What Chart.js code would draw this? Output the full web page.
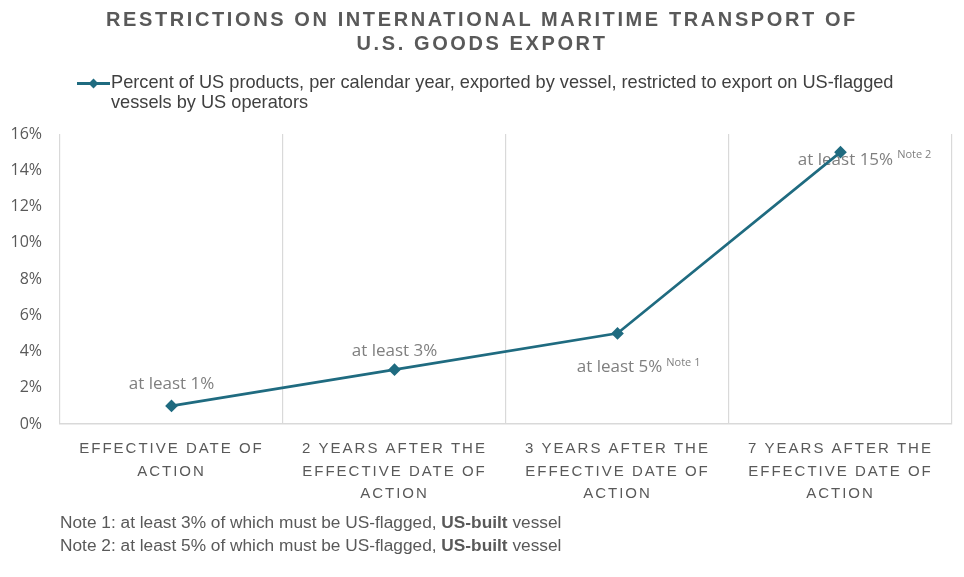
<!DOCTYPE html>
<html><head><meta charset="utf-8">
<script src="https://cdn.jsdelivr.net/npm/chart.js@4.4.1/dist/chart.umd.min.js"></script>
<style>
html,body{margin:0;padding:0;background:#fff;width:964px;height:577px;overflow:hidden;position:relative}
canvas{position:absolute;left:0;top:0}
#title{position:absolute;left:0;top:7px;width:964px;text-align:center;font-family:"Liberation Sans",Arial,sans-serif;font-weight:bold;font-size:20px;line-height:24px;letter-spacing:2.6px;color:#595959}
#legend{position:absolute;left:77px;top:72px;width:880px;font-family:"Liberation Sans",Arial,sans-serif;font-size:18.2px;line-height:20px;color:#404040}
#legend .mk{position:absolute;left:0;top:10px;width:33px;height:2.5px;background:#1F6B80}
#legend .mk:after{content:"";position:absolute;left:13px;top:-2.5px;width:7px;height:7px;background:#1F6B80;transform:rotate(45deg)}
#legend .tx{position:absolute;left:34px;top:0;white-space:nowrap}
#notes{position:absolute;left:60px;top:511px;font-family:"Liberation Sans",Arial,sans-serif;font-size:17.3px;line-height:23px;color:#595959}
</style></head>
<body>
<canvas id="c" width="964" height="577"></canvas>
<div id="title">RESTRICTIONS ON INTERNATIONAL MARITIME TRANSPORT OF<br>U.S. GOODS EXPORT</div>
<div id="legend"><span class="mk"></span><span class="tx" id="legendText"></span></div>
<div id="notes">Note 1: at least 3% of which must be US-flagged, <b>US-built</b> vessel<br>Note 2: at least 5% of which must be US-flagged, <b>US-built</b> vessel</div>
<script>
const categories = [
  ["EFFECTIVE DATE OF", "ACTION"],
  ["2 YEARS AFTER THE", "EFFECTIVE DATE OF", "ACTION"],
  ["3 YEARS AFTER THE", "EFFECTIVE DATE OF", "ACTION"],
  ["7 YEARS AFTER THE", "EFFECTIVE DATE OF", "ACTION"]
];
const seriesName = "Percent of US products, per calendar year, exported by vessel, restricted to export on US-flagged vessels by US operators";
const restrictedPct = [1, 3, 5, 15];
const labelNotes = ["", "", "Note 1", "Note 2"];
const yMax = 16;
const yStep = 2;

const LINE = '#1F6B80';
document.getElementById('legendText').innerHTML =
  seriesName.replace('US-flagged ', 'US-flagged<br>');

// label placement relative to each point (styling only)
const labelOffsetY = [-22, -18, 34, 8];
const labelOffsetX = [0, 0, 2, 5];

const pointLabels = {
  id: 'pointLabels',
  beforeDatasetsDraw(chart) {
    const ctx = chart.ctx;
    const meta = chart.getDatasetMeta(0);
    ctx.save();
    meta.data.forEach((pt, i) => {
      const main = 'at least ' + restrictedPct[i] + '%';
      ctx.font = '17px "Open Sans", sans-serif';
      ctx.fillStyle = '#7f7f7f';
      ctx.textAlign = 'center';
      ctx.textBaseline = 'middle';
      const cx = pt.x + labelOffsetX[i];
      const cy = pt.y + labelOffsetY[i];
      ctx.fillText(main, cx, cy);
      if (labelNotes[i]) {
        const w = ctx.measureText(main).width;
        ctx.font = '11px "Open Sans", sans-serif';
        ctx.textAlign = 'left';
        ctx.fillText(labelNotes[i], cx + w / 2 + 4, cy - 5);
      }
    });
    ctx.restore();
  }
};

const spacedXLabels = {
  id: 'spacedXLabels',
  beforeDraw(chart) {
    const sc = chart.scales.x;
    if (!sc._patched) {
      const orig = sc.drawLabels.bind(sc);
      sc.drawLabels = function (area) {
        const ctx = this.ctx;
        ctx.save();
        ctx.letterSpacing = '2px';
        orig(area);
        ctx.restore();
      };
      sc._patched = true;
    }
  }
};

new Chart(document.getElementById('c'), {
  type: 'line',
  data: {
    labels: categories,
    datasets: [{
      label: seriesName,
      data: restrictedPct,
      borderColor: LINE,
      backgroundColor: LINE,
      borderWidth: 2.6,
      pointStyle: 'rectRot',
      pointRadius: 4.5,
      pointHoverRadius: 4.5,
      pointBackgroundColor: LINE,
      pointBorderColor: LINE,
      tension: 0
    }]
  },
  options: {
    responsive: false,
    animation: false,
    devicePixelRatio: 1,
    layout: { padding: { top: 134, left: 0, right: 12, bottom: 0 } },
    plugins: { legend: { display: false }, title: { display: false }, tooltip: { enabled: false } },
    scales: {
      x: {
        offset: true,
        grid: { display: true, offset: true, color: '#d9d9d9', lineWidth: 1.2, drawTicks: false },
        border: { display: true, color: '#d9d9d9', width: 1.5 },
        ticks: {
          color: '#595959',
          font: { family: '"Liberation Sans", Arial, sans-serif', size: 15, lineHeight: 1.5 },
          padding: 14,
          maxRotation: 0,
          autoSkip: false
        },
        afterFit(s) { s.height = 577 - 424; }
      },
      y: {
        min: 0, max: yMax,
        grid: { display: false },
        border: { display: false },
        ticks: {
          stepSize: yStep,
          color: '#595959',
          font: { family: '"Open Sans", sans-serif', size: 16 },
          padding: 10,
          callback: v => v + '%'
        },
        afterFit(s) { s.width = 60; }
      }
    }
  },
  plugins: [pointLabels, spacedXLabels]
});
</script>
</body></html>
